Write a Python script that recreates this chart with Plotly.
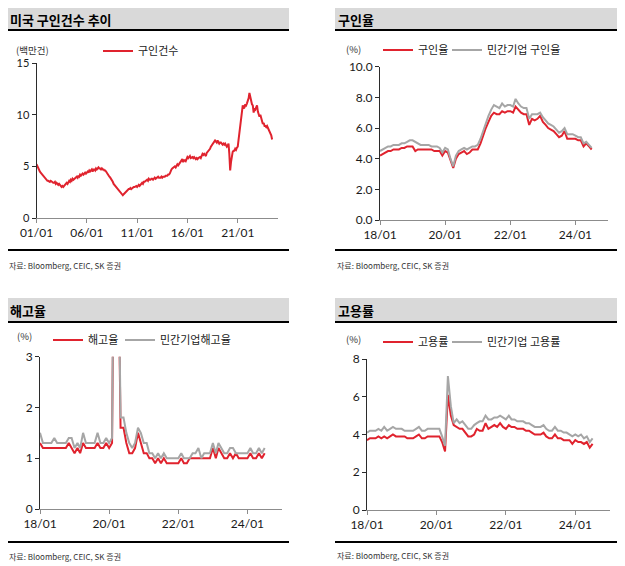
import plotly.graph_objects as go
import pandas as pd

W, H = 625, 566

# ---------------- data ----------------
openings_start = "2001-01-01"
openings = [  # 미국 구인건수 (백만건), monthly from 2001-01
    5.2, 5.0, 4.8, 4.7, 4.5, 4.4, 4.3, 4.1, 4.0, 3.9, 3.8, 3.7,
    3.7, 3.6, 3.6, 3.5, 3.5, 3.6, 3.5, 3.4, 3.4, 3.4, 3.5, 3.3,
    3.4, 3.3, 3.2, 3.3, 3.2, 3.1, 3.0, 3.1, 3.0, 3.1, 3.2, 3.3,
    3.4, 3.3, 3.5, 3.6, 3.5, 3.7, 3.6, 3.8, 3.7, 3.8, 3.9, 3.9,
    4.0, 3.9, 4.1, 4.0, 4.2, 4.1, 4.2, 4.3, 4.2, 4.3, 4.4, 4.3,
    4.4, 4.5, 4.4, 4.6, 4.5, 4.6, 4.7, 4.5, 4.7, 4.7, 4.6, 4.8,
    4.7, 4.8, 4.9, 4.8, 4.8, 4.7, 4.8, 4.7, 4.7, 4.6, 4.6, 4.5,
    4.4, 4.3, 4.2, 4.0, 3.9, 3.8, 3.6, 3.5, 3.3, 3.2, 3.0, 2.9,
    2.9, 2.7, 2.6, 2.5, 2.4, 2.3, 2.3, 2.2, 2.3, 2.4, 2.4, 2.5,
    2.6, 2.7, 2.8, 2.8, 2.9, 2.8, 2.9, 2.9, 3.0, 3.0, 3.1, 3.1,
    3.0, 3.2, 3.2, 3.1, 3.2, 3.3, 3.4, 3.3, 3.5, 3.5, 3.6, 3.7,
    3.7, 3.6, 3.8, 3.7, 3.7, 3.8, 3.8, 3.7, 3.8, 3.9, 3.8, 3.9,
    3.9, 4.0, 3.9, 3.9, 3.9, 4.0, 3.9, 4.0, 4.0, 4.0, 4.1, 4.1,
    4.1, 4.2, 4.2, 4.3, 4.6, 4.7, 4.8, 4.9, 4.9, 5.0, 4.9, 5.1,
    5.2, 5.1, 5.2, 5.3, 5.4, 5.5, 5.7, 5.4, 5.6, 5.6, 5.5, 5.7,
    5.9, 5.8, 5.9, 6.0, 5.8, 5.9, 5.9, 5.8, 5.9, 5.8, 5.7, 5.8,
    5.7, 5.8, 5.9, 5.9, 5.8, 6.1, 6.2, 6.1, 6.2, 6.1, 6.0, 6.3,
    6.4, 6.5, 6.6, 6.7, 6.9, 7.0, 7.1, 7.2, 7.4, 7.5, 7.4, 7.3,
    7.5, 7.3, 7.2, 7.3, 7.3, 7.2, 7.1, 7.2, 7.1, 7.2, 7.0, 6.9,
    7.0, 7.2, 6.2, 4.6, 5.4, 6.1, 6.4, 6.5, 6.5, 6.7, 6.6, 6.8,
    6.9, 7.6, 8.3, 9.3, 9.8, 10.4, 10.9, 10.6, 10.7, 11.0, 10.9, 11.1,
    11.3, 11.6, 12.1, 11.7, 11.3, 11.0, 10.9, 10.2, 10.6, 10.5, 10.7, 10.9,
    10.3, 10.0, 9.8, 10.0, 9.6, 9.3, 9.1, 9.2, 8.9, 8.9, 8.8, 8.9,
    8.7, 8.6, 8.5, 8.3, 8.0, 7.6,
]

rate_start = "2018-01-01"
openings_rate = [  # 구인율 (%)
    4.2, 4.3, 4.4, 4.5, 4.5, 4.6, 4.6, 4.6, 4.7, 4.7, 4.8, 4.8,
    4.8, 4.5, 4.6, 4.6, 4.6, 4.6, 4.6, 4.6, 4.5, 4.5, 4.5, 4.2,
    4.5, 4.4, 3.9, 3.4, 4.0, 4.3, 4.4, 4.5, 4.3, 4.4, 4.6, 4.6,
    4.6, 5.0, 5.5, 6.0, 6.4, 6.8, 7.0, 6.9, 6.9, 7.1, 7.0, 7.1,
    7.1, 7.0, 7.4, 7.2, 7.0, 6.9, 6.9, 6.2, 6.6, 6.5, 6.6, 6.8,
    6.4, 6.2, 6.0, 5.9, 5.8, 5.6, 5.4, 5.5, 5.8, 5.3, 5.3, 5.3,
    5.3, 5.2, 5.2, 4.8, 5.0, 4.8, 4.6,
]
openings_rate_private = [  # 민간기업 구인율 (%)
    4.5, 4.6, 4.7, 4.8, 4.8, 4.9, 4.9, 4.9, 5.0, 5.0, 5.1, 5.2,
    5.2, 5.1, 5.0, 4.9, 4.9, 4.9, 4.9, 4.8, 4.8, 4.8, 4.7, 4.4,
    4.7, 4.6, 4.0, 3.5, 4.2, 4.5, 4.6, 4.7, 4.6, 4.7, 4.8, 4.8,
    4.9, 5.3, 5.8, 6.3, 6.8, 7.2, 7.5, 7.4, 7.3, 7.6, 7.4, 7.5,
    7.5, 7.4, 7.9, 7.6, 7.4, 7.3, 7.3, 6.6, 6.9, 6.9, 6.9, 7.0,
    6.7, 6.5, 6.3, 6.2, 6.1, 5.9, 5.7, 5.8, 6.0, 5.6, 5.6, 5.6,
    5.5, 5.4, 5.4, 5.0, 5.1, 4.9, 4.7,
]
layoff_rate = [  # 해고율 (%)
    1.3, 1.2, 1.2, 1.2, 1.2, 1.2, 1.2, 1.2, 1.2, 1.2, 1.3, 1.2,
    1.1, 1.2, 1.1, 1.3, 1.2, 1.2, 1.2, 1.2, 1.3, 1.2, 1.2, 1.3,
    1.2, 1.3, 7.5, 5.9, 1.6, 1.6, 1.3, 1.1, 1.1, 1.2, 1.5, 1.3,
    1.1, 1.1, 1.0, 1.0, 0.9, 1.0, 0.9, 1.0, 0.9, 0.9, 0.9, 0.9,
    0.9, 1.0, 0.9, 0.9, 1.0, 1.0, 1.0, 1.0, 1.0, 1.0, 1.0, 1.0,
    1.2, 1.0, 1.2, 1.1, 1.0, 1.0, 1.1, 1.0, 1.1, 1.0, 1.0, 1.0,
    1.0, 1.1, 1.0, 1.0, 1.1, 1.0, 1.1,
]
layoff_rate_private = [  # 민간기업 해고율 (%)
    1.5, 1.3, 1.3, 1.3, 1.3, 1.4, 1.3, 1.3, 1.3, 1.3, 1.4, 1.4,
    1.2, 1.3, 1.2, 1.5, 1.3, 1.3, 1.3, 1.3, 1.5, 1.3, 1.3, 1.4,
    1.3, 1.4, 8.0, 6.3, 1.8, 1.8, 1.5, 1.3, 1.2, 1.3, 1.6, 1.5,
    1.3, 1.3, 1.1, 1.1, 1.0, 1.1, 1.0, 1.1, 1.0, 1.0, 1.0, 1.0,
    1.0, 1.1, 1.0, 1.0, 1.0, 1.1, 1.1, 1.2, 1.0, 1.1, 1.1, 1.1,
    1.3, 1.1, 1.3, 1.2, 1.1, 1.1, 1.2, 1.2, 1.1, 1.1, 1.1, 1.1,
    1.1, 1.2, 1.1, 1.1, 1.2, 1.1, 1.2,
]
hires_rate = [  # 고용률 (%)
    3.7, 3.8, 3.8, 3.8, 3.9, 3.8, 3.9, 3.8, 3.9, 4.0, 3.9, 3.9,
    3.9, 3.9, 3.8, 3.8, 3.8, 3.9, 4.0, 3.8, 3.8, 3.9, 3.9, 3.9,
    3.9, 3.9, 3.6, 3.1, 6.1, 5.0, 4.5, 4.4, 4.3, 4.3, 4.1, 3.9,
    3.9, 4.0, 4.3, 4.2, 4.2, 4.6, 4.3, 4.4, 4.5, 4.4, 4.6, 4.4,
    4.3, 4.5, 4.4, 4.4, 4.3, 4.3, 4.3, 4.2, 4.2, 4.1, 4.0, 4.0,
    4.0, 4.1, 3.9, 3.8, 3.8, 4.0, 3.8, 3.8, 3.7, 3.7, 3.7, 3.5,
    3.7, 3.6, 3.6, 3.5, 3.6, 3.3, 3.5,
]
hires_rate_private = [  # 민간기업 고용률 (%)
    4.1, 4.2, 4.2, 4.2, 4.3, 4.2, 4.4, 4.2, 4.3, 4.4, 4.3, 4.3,
    4.3, 4.2, 4.2, 4.2, 4.2, 4.3, 4.4, 4.2, 4.2, 4.3, 4.3, 4.3,
    4.3, 4.3, 3.9, 3.4, 7.1, 5.5, 4.6, 4.8, 4.6, 4.7, 4.5, 4.3,
    4.3, 4.5, 4.6, 4.7, 4.7, 5.0, 4.8, 4.8, 4.9, 4.9, 5.0, 4.9,
    4.8, 5.0, 4.8, 4.8, 4.7, 4.7, 4.7, 4.6, 4.6, 4.5, 4.4, 4.4,
    4.4, 4.5, 4.3, 4.2, 4.2, 4.4, 4.2, 4.2, 4.1, 4.1, 4.0, 3.9,
    4.0, 3.9, 4.0, 3.8, 3.9, 3.6, 3.8,
]

tick_dates_1 = ["2001-01-01", "2006-01-01", "2011-01-01", "2016-01-01", "2021-01-01"]
tick_labels_1 = ["01/01", "06/01", "11/01", "16/01", "21/01"]
tick_dates_2 = ["2018-01-01", "2020-01-01", "2022-01-01", "2024-01-01"]
tick_labels_2 = ["18/01", "20/01", "22/01", "24/01"]

titles = ["미국 구인건수 추이", "구인율", "해고율", "고용률"]
source_text = "자료: Bloomberg, CEIC, SK 증권"

RED = "#E0232E"
GRAY = "#A6A6A6"
FONT = "Lato, Noto Sans CJK KR, sans-serif"
KFONT = "Noto Sans CJK KR, sans-serif"

d1 = pd.date_range(openings_start, periods=len(openings), freq="MS")
d2 = pd.date_range(rate_start, periods=len(openings_rate), freq="MS")

# the page body adds an 8px margin around the figure; compensate so that
# positions below are in screen pixels of the final picture
OFF = 8


def px(x):
    return (x - OFF) / W


def py(y):
    return 1 - (y - OFF) / H


fig = go.Figure()

series = [
    # (x, y, name, colour, axis suffix, legend id)
    (d1, openings, "구인건수", RED, "", "legend"),
    (d2, openings_rate, "구인율", RED, "2", "legend2"),
    (d2, openings_rate_private, "민간기업 구인율", GRAY, "2", "legend3"),
    (d2, layoff_rate, "해고율", RED, "3", "legend4"),
    (d2, layoff_rate_private, "민간기업해고율", GRAY, "3", "legend5"),
    (d2, hires_rate, "고용률", RED, "4", "legend6"),
    (d2, hires_rate_private, "민간기업 고용률", GRAY, "4", "legend7"),
]
for xs, ys, name, col, sfx, leg in series:
    fig.add_trace(go.Scatter(x=xs, y=ys, name=name, mode="lines",
                             line=dict(color=col, width=2),
                             xaxis="x" + sfx, yaxis="y" + sfx, legend=leg))

axis_common = dict(showline=True, linewidth=1, ticks="outside",
                   ticklen=4, showgrid=False, zeroline=False,
                   fixedrange=True, automargin=False)

# panel geometry in pixels: (x0, x1, ybottom, ytop)
geo = {
    1: (36.5, 278, 218, 63),
    2: (380, 608, 220, 66.7),
    3: (40, 282, 509, 356.7),
    4: (367, 610, 510, 359),
}
yranges = {1: [0, 15], 2: [0, 10], 3: [0, 3], 4: [0, 8]}
ydticks = {1: 5, 2: 2, 3: 1, 4: 2}
yfmt = {1: "d", 2: ".1f", 3: "d", 4: "d"}
yfont = {1: 11, 2: 12, 3: 12, 4: 12}

layout_axes = {}
for i in range(1, 5):
    x0, x1, yb, yt = geo[i]
    sfx = "" if i == 1 else str(i)
    if i == 1:
        xr = ["2001-01-01", "2025-01-01"]
        tv, tt = tick_dates_1, tick_labels_1
    else:
        xr = ["2018-01-01", "2024-12-31"]
        tv, tt = tick_dates_2, tick_labels_2
    layout_axes["xaxis" + sfx] = dict(axis_common, domain=[px(x0), px(x1)], range=xr, type="date",
                                      tickvals=tv, ticktext=tt, anchor="y" + sfx,
                                      linecolor="#8c8c8c", tickcolor="#8c8c8c",
                                      tickfont=dict(family=FONT, size=12, color="#1a1a1a"))
    layout_axes["yaxis" + sfx] = dict(axis_common, domain=[py(yb), py(yt)], range=yranges[i],
                                      dtick=ydticks[i], tick0=0, tickformat=yfmt[i],
                                      anchor="x" + sfx, linecolor="#2b2b2b", tickcolor="#2b2b2b",
                                      tickfont=dict(family=FONT, size=yfont[i], color="#1a1a1a"))

fig.update_layout(**layout_axes)

# legends: one entry each, placed so that the swatch sits where the reference shows it
leg_common = dict(orientation="h", xanchor="left", yanchor="middle", bgcolor="rgba(0,0,0,0)",
                  font=dict(family=KFONT, size=11, color="#1a1a1a"), itemwidth=30,
                  itemclick=False, itemdoubleclick=False)
legend_pos = {
    "legend": (98, 51),
    "legend2": (378, 50),
    "legend3": (447, 50),
    "legend4": (48, 340),
    "legend5": (120, 340),
    "legend6": (378, 342),
    "legend7": (447, 342),
}
fig.update_layout(showlegend=True,
                  **{k: dict(leg_common, x=px(v[0]), y=py(v[1])) for k, v in legend_pos.items()})

# panel decorations
shapes = []
annotations = []
panels = [
    # (left, right, bar_top, bar_bottom, title_y, bottom_line, source_y, unit, unit_x, unit_y)
    (7, 289, 5, 30, 19, 250, 265, "(백만건)", 14, 50),
    (335, 619, 5, 30, 19, 250, 265, "(%)", 344, 49),
    (7, 289, 298, 322, 310, 542, 556.5, "(%)", 15, 336),
    (335, 619, 298, 322, 310, 542, 555.5, "(%)", 344, 339),
]
for k, (l, r, bt, bb, ty, bl, sy, unit, ux, uy) in enumerate(panels):
    shapes.append(dict(type="rect", xref="paper", yref="paper", x0=px(l), x1=px(r),
                       y0=py(bb), y1=py(bt), fillcolor="#D9D9D9", line=dict(width=0), layer="below"))
    shapes.append(dict(type="line", xref="paper", yref="paper", x0=px(l), x1=px(r),
                       y0=py(bb), y1=py(bb), line=dict(color="#000000", width=2)))
    shapes.append(dict(type="line", xref="paper", yref="paper", x0=px(l), x1=px(r),
                       y0=py(bl), y1=py(bl), line=dict(color="#000000", width=2)))
    annotations.append(dict(text="<b>" + titles[k] + "</b>", xref="paper", yref="paper",
                            x=px(l + 0.5), y=py(ty), xanchor="left", yanchor="middle",
                            showarrow=False, font=dict(family=KFONT, size=13, color="#000")))
    annotations.append(dict(text=source_text, xref="paper", yref="paper",
                            x=px(l), y=py(sy), xanchor="left", yanchor="middle",
                            showarrow=False, font=dict(family=KFONT, size=8, color="#333")))
    annotations.append(dict(text=unit, xref="paper", yref="paper",
                            x=px(ux), y=py(uy), xanchor="left", yanchor="middle",
                            showarrow=False, font=dict(family=KFONT, size=9.5, color="#333")))

fig.update_layout(
    width=W, height=H, autosize=False,
    margin=dict(l=0, r=0, t=0, b=0, pad=0, autoexpand=False),
    paper_bgcolor="white", plot_bgcolor="white",
    shapes=shapes, annotations=annotations,
    font=dict(family=FONT),
)

fig.write_html("out.html")
